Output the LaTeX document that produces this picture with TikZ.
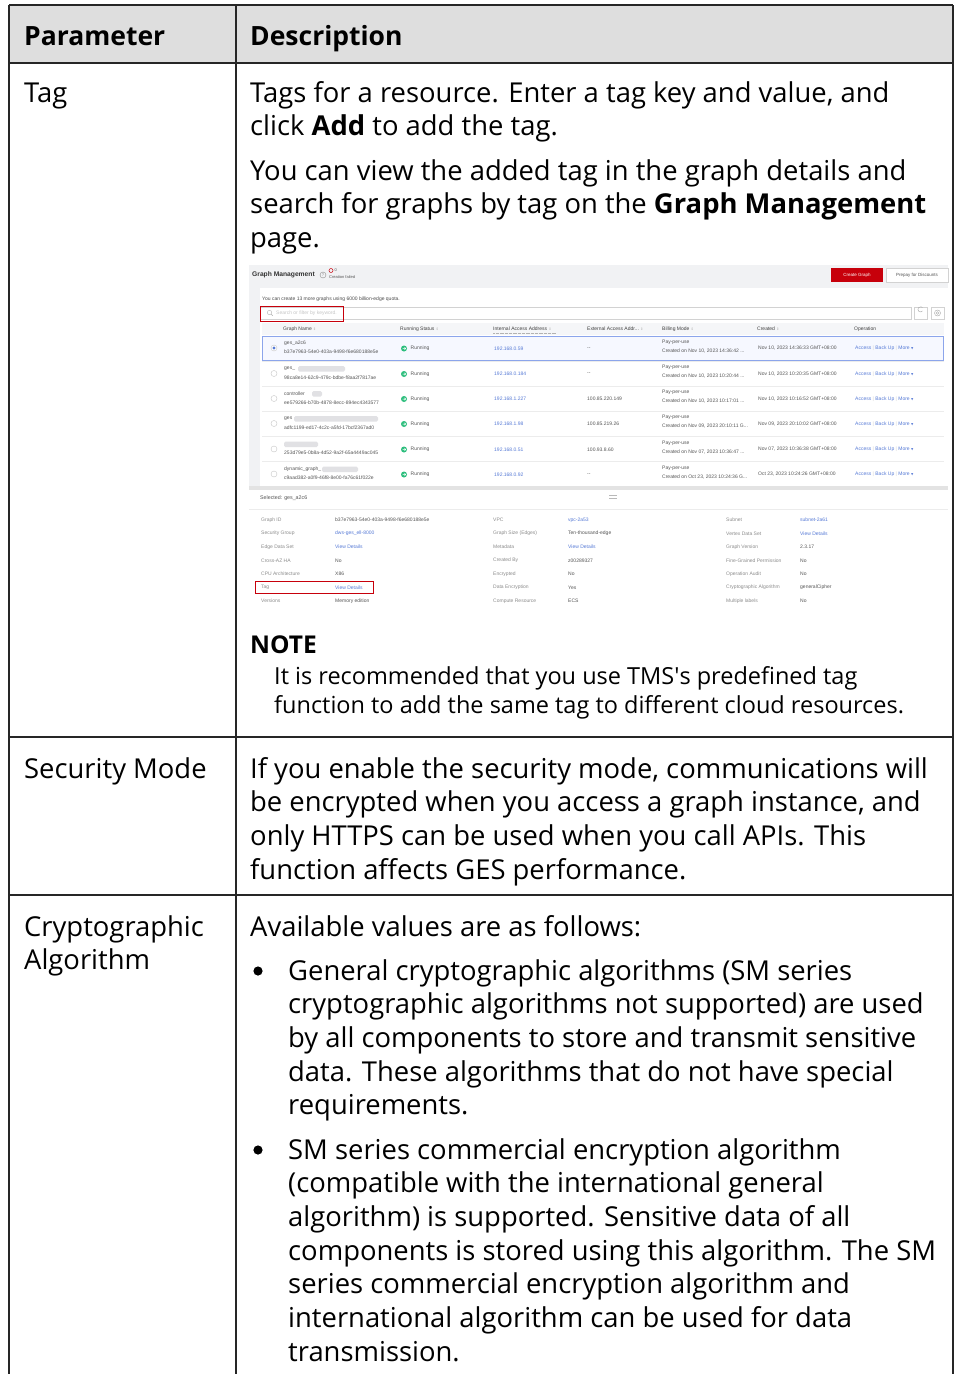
\documentclass[tikz,border=0pt]{standalone}
\usepackage{fontspec}
\setmainfont{Open Sans}
\newfontfamily\ssfont{Liberation Sans}
\newfontfamily\symfont{DejaVu Sans}
\usepackage{xcolor}
\definecolor{hdrgray}{RGB}{222,222,222}
\definecolor{ssbg}{RGB}{241,242,244}
\definecolor{thgray}{RGB}{245,246,248}
\definecolor{hwred}{RGB}{199,0,11}
\definecolor{linkblue}{RGB}{86,122,214}
\definecolor{selblue}{RGB}{140,165,235}
\definecolor{selfill}{RGB}{246,248,255}
\definecolor{rungreen}{RGB}{45,190,125}
\definecolor{sstext}{RGB}{85,85,85}
\definecolor{sslabel}{RGB}{140,140,140}
\definecolor{blurgray}{RGB}{225,225,228}

\begin{document}
\begin{tikzpicture}[
  x=1pt, y=-1pt,
  grid/.style={line width=1.6pt, black!85},
  % multi-line nodes: anchor sits on the baseline of the last line
  body/.style={anchor=base west, inner sep=0pt, align=left,
               font=\fontsize{27.4}{33.7}\selectfont},
  hdr/.style={body, font=\fontsize{26.5}{33.7}\selectfont\bfseries},
  notetxt/.style={body, font=\fontsize{23.5}{29}\selectfont},
  ss/.style={anchor=west, inner sep=0pt, text=sstext,
             font=\ssfont\fontsize{5}{6}\selectfont},
  sslbl/.style={ss, text=sslabel},
  sslink/.style={ss, text=linkblue},
  redframe/.style={draw=hwred, line width=1pt},
  blur/.style={fill=blurgray, rounded corners=1.5pt}
]
\useasboundingbox (0,0) rectangle (955,1374);

% ---- table frame ----
\fill[hdrgray] (9,5) rectangle (953,63);
\draw[grid] (9,5) -- (953,5);
\draw[grid] (9,63) -- (953,63);
\draw[grid] (9,737) -- (953,737);
\draw[grid] (9,895) -- (953,895);
\draw[grid] (9,5) -- (9,1374);
\draw[grid] (236,5) -- (236,1374);
\draw[grid] (953,5) -- (953,1374);

% ---- header ----
\node[hdr] (hpar)  at (24,45)  {Parameter};
\node[hdr] (hdesc) at (250,45) {Description};

% ---- Tag row ----
\node[body] (ptag) at (24,102) {Tag};
\node[body] (dtag1) at (250,135.7) {Tags for a resource. Enter a tag key and value, and\\
  click \textbf{Add} to add the tag.};
\node[body] (dtag2) at (250,247.4) {You can view the added tag in the graph details and\\
  search for graphs by tag on the \textbf{Graph Management}\\
  page.};

% ---- screenshot: console background ----
\fill[ssbg] (249,265) rectangle (948,608);
\fill[white] (260,288) rectangle (948,486);
\fill[gray!22] (249,486) rectangle (948,490);
\fill[white] (249,490) rectangle (948,608);

% ---- screenshot: title bar ----
\node[ss, text=black!80, font=\ssfont\bfseries\fontsize{6.7}{7}\selectfont] (gm) at (252,275) {Graph Management};
\draw[sslabel, line width=0.4pt] (323,275) circle (3);
\node[sslbl, anchor=center, font=\ssfont\fontsize{4}{4}\selectfont] (gmhelp) at (323,275.2) {?};
\draw[hwred, line width=0.5pt] (331,270.5) circle (2);
\node[ss, font=\ssfont\fontsize{4}{4}\selectfont] (gmcnt) at (334.5,270.5) {0};
\node[ss, font=\ssfont\fontsize{4}{4}\selectfont] (gmfail) at (329,277.5) {Creation failed};
\node[fill=hwred, text=white, minimum width=52pt, minimum height=14pt, inner sep=0pt,
      font=\ssfont\fontsize{4.5}{5}\selectfont] (btncreate) at (857,275) {Create Graph};
\node[draw=gray!35, fill=white, text=sstext, minimum width=62pt, minimum height=14pt, inner sep=0pt,
      font=\ssfont\fontsize{4.5}{5}\selectfont] (btnprepay) at (917,275) {Prepay for Discounts};

% ---- screenshot: search bar ----
\node[ss, text=black!70] (quota) at (262,299) {You can create 13 more graphs using 6000 billion-edge quota.};
\draw[gray!35, fill=white, line width=0.4pt] (260,307) rectangle (911,319);
\draw[redframe] (260,306) rectangle (343,321);
\draw[gray!60, line width=0.4pt] (269.5,312.5) circle (2.2) (271,314) -- (272.8,315.8);
\node[ss, text=gray!45] (search) at (276,313) {Search or filter by keyword.};
\draw[gray!35, fill=white, line width=0.4pt] (914,307) rectangle (927,319);
\draw[gray!70, line width=0.4pt] (922.5,311) arc (40:320:2.6);
\draw[gray!35, fill=white, line width=0.4pt] (931,307) rectangle (944,319);
\draw[gray!70, line width=0.4pt] (937.5,313) circle (3) (937.5,313) circle (1.3);

% ---- screenshot: list header ----
\fill[thgray] (262,323) rectangle (944,335);
\foreach \x/\t in {283/{Graph Name},400/{Running Status},493/{Internal Access Address},
                   587/{External Access Addr...},662/{Billing Mode},757/{Created}}
  \node[ss, text=black!75] at (\x,329) {\t\ \textcolor{gray!60}{\symfont\fontsize{3.5}{4}\selectfont ⇕}};
\node[ss, text=black!75] (thop) at (854,329) {Operation};
\draw[gray!60, densely dotted, line width=0.3pt] (493,333.5) -- (556,333.5);

% ---- screenshot: list rows ----
\draw[selblue, fill=selfill, line width=0.5pt] (262,336) rectangle (943,360);
\foreach \yy in {361,386,411,436,461}
  \draw[gray!15, line width=0.4pt] (262,\yy) -- (944,\yy);
\foreach \k/\y/\na/\id/\ip/\ex/\bc/\cr in {
  1/348/{ges\_a2c6}/{b37e7963-54e0-403a-9498-f6e680188e5e}/{192.168.0.59}/{--}/{Created on Nov 10, 2023 14:36:42 ...}/{Nov 10, 2023 14:36:33 GMT+08:00},
  2/373.5/{ges\_}/{98ca8e14-62c9-479c-bdbe-f8aa2f7817ae}/{192.168.0.184}/{--}/{Created on Nov 10, 2023 10:20:44 ...}/{Nov 10, 2023 10:20:35 GMT+08:00},
  3/398.5/{controller}/{ee579266-b70b-4878-8ecc-894ec4343577}/{192.168.1.227}/{100.85.220.149}/{Created on Nov 10, 2023 10:17:01 ...}/{Nov 10, 2023 10:16:52 GMT+08:00},
  4/423.5/{ges}/{adfc1199-ed17-4c2c-a5fd-17bcf2367ad0}/{192.168.1.98}/{100.85.219.26}/{Created on Nov 09, 2023 20:10:11 G...}/{Nov 09, 2023 20:10:02 GMT+08:00},
  5/449/{}/{253d79e5-0b8a-4d52-9a2f-65a4449ac045}/{192.168.0.51}/{100.93.8.60}/{Created on Nov 07, 2023 10:36:47 ...}/{Nov 07, 2023 10:36:38 GMT+08:00},
  6/474/{dynamic\_graph\_}/{c9aad382-a0f9-46f8-8e00-fa76c61f022e}/{192.168.0.92}/{--}/{Created on Oct 23, 2023 10:24:36 G...}/{Oct 23, 2023 10:24:26 GMT+08:00}}
{
  \draw[gray!45, fill=white, line width=0.4pt] (274,\y) circle (3);
  \node[ss] (r\k-name) at (284,\y-4.5) {\na};
  \node[ss] (r\k-id)   at (284,\y+4)   {\id};
  \fill[rungreen] (404,\y+0.5) circle (3);
  \draw[white, line width=0.5pt] (402.6,\y+0.5) -- (405.6,\y+0.5) (404.6,\y-0.7) -- (405.7,\y+0.5) -- (404.6,\y+1.7);
  \node[ss] (r\k-run)  at (410.5,\y+0.5) {Running};
  \node[sslink] (r\k-ip) at (494,\y+0.5) {\ip};
  \node[ss] (r\k-ext)  at (587,\y+0.5) {\ex};
  \node[ss] (r\k-pay)  at (662,\y-6) {Pay-per-use};
  \node[ss] (r\k-bill) at (662,\y+3) {\bc};
  \node[ss] (r\k-cre)  at (758,\y+0.5) {\cr};
  \node[sslink] (r\k-op) at (855,\y+0.5) {Access \textcolor{gray!35}{|} Back Up \textcolor{gray!35}{|} More {\symfont\fontsize{3}{3}\selectfont ▼}};
}
\fill[linkblue] (274,348) circle (1.6);
% redacted names
\fill[blur] (298,366) rectangle (345,371.5);
\fill[blur] (312,391) rectangle (322,396.5);
\fill[blur] (294,416) rectangle (378,421.5);
\fill[blur] (284,441.5) rectangle (318,447);
\fill[blur] (322,466.5) rectangle (358,472);

% ---- screenshot: detail panel ----
\node[ss, font=\ssfont\fontsize{5.3}{6}\selectfont] (selname) at (260,498.5) {Selected: ges\_a2c6};
\draw[gray!55, line width=0.5pt] (609,495.3) -- (617,495.3) (609,497.8) -- (617,497.8);
\draw[gray!15, line width=0.4pt] (249,509) -- (948,509);
\foreach \y/\la/\va/\lb/\vb/\lc/\vc in {
  520/{Graph ID}/{b37e7963-54e0-403a-9498-f6e680188e5e}/{VPC}/{\textcolor{linkblue}{vpc-2a53}}/{Subnet}/{\textcolor{linkblue}{subnet-2a61}},
  533.5/{Security Group}/{\textcolor{linkblue}{dws-ges\_ell-8000}}/{Graph Size (Edges)}/{Ten-thousand-edge}/{Vertex Data Set}/{\textcolor{linkblue}{View Details}},
  547/{Edge Data Set}/{\textcolor{linkblue}{View Details}}/{Metadata}/{\textcolor{linkblue}{View Details}}/{Graph Version}/{2.3.17},
  560.5/{Cross-AZ HA}/{No}/{Created By}/{z00289327}/{Fine-Grained Permission}/{No},
  574/{CPU Architecture}/{X86}/{Encrypted}/{No}/{Operation Audit}/{No},
  587.5/{Tag}/{\textcolor{linkblue}{View Details}}/{Data Encryption}/{Yes}/{Cryptographic Algorithm}/{generalCipher},
  601/{Versions}/{Memory edition}/{Compute Resource}/{ECS}/{Multiple labels}/{No}}
{
  \node[sslbl] at (261,\y) {\la};
  \node[ss]    at (335,\y) {\va};
  \node[sslbl] at (493,\y) {\lb};
  \node[ss]    at (568,\y) {\vb};
  \node[sslbl] at (726,\y) {\lc};
  \node[ss]    at (800,\y) {\vc};
}
\draw[redframe] (255.5,581.5) rectangle (373.5,593.5);

% ---- note ----
\node[hdr, font=\fontsize{24.5}{29}\selectfont\bfseries] (note) at (250,653) {NOTE};
\node[notetxt] (notebody) at (274,713) {It is recommended that you use TMS\textquotesingle s predefined tag\\
  function to add the same tag to different cloud resources.};

% ---- Security Mode row ----
\node[body] (psec) at (24,778) {Security Mode};
\node[body] (dsec) at (250,879.1) {If you enable the security mode, communications will\\
  be encrypted when you access a graph instance, and\\
  only HTTPS can be used when you call APIs. This\\
  function affects GES performance.};

% ---- Cryptographic Algorithm row ----
\node[body] (pcry) at (24,969.7) {Cryptographic\\Algorithm};
\node[body] (dcry) at (250,936) {Available values are as follows:};
\fill (258,971) circle (4.6);
\node[body] (bul1) at (288,1114.8) {General cryptographic algorithms (SM series\\
  cryptographic algorithms not supported) are used\\
  by all components to store and transmit sensitive\\
  data. These algorithms that do not have special\\
  requirements.};
\fill (258,1150) circle (4.6);
\node[body] (bul2) at (288,1361.2) {SM series commercial encryption algorithm\\
  (compatible with the international general\\
  algorithm) is supported. Sensitive data of all\\
  components is stored using this algorithm. The SM\\
  series commercial encryption algorithm and\\
  international algorithm can be used for data\\
  transmission.};
\end{tikzpicture}
\end{document}
